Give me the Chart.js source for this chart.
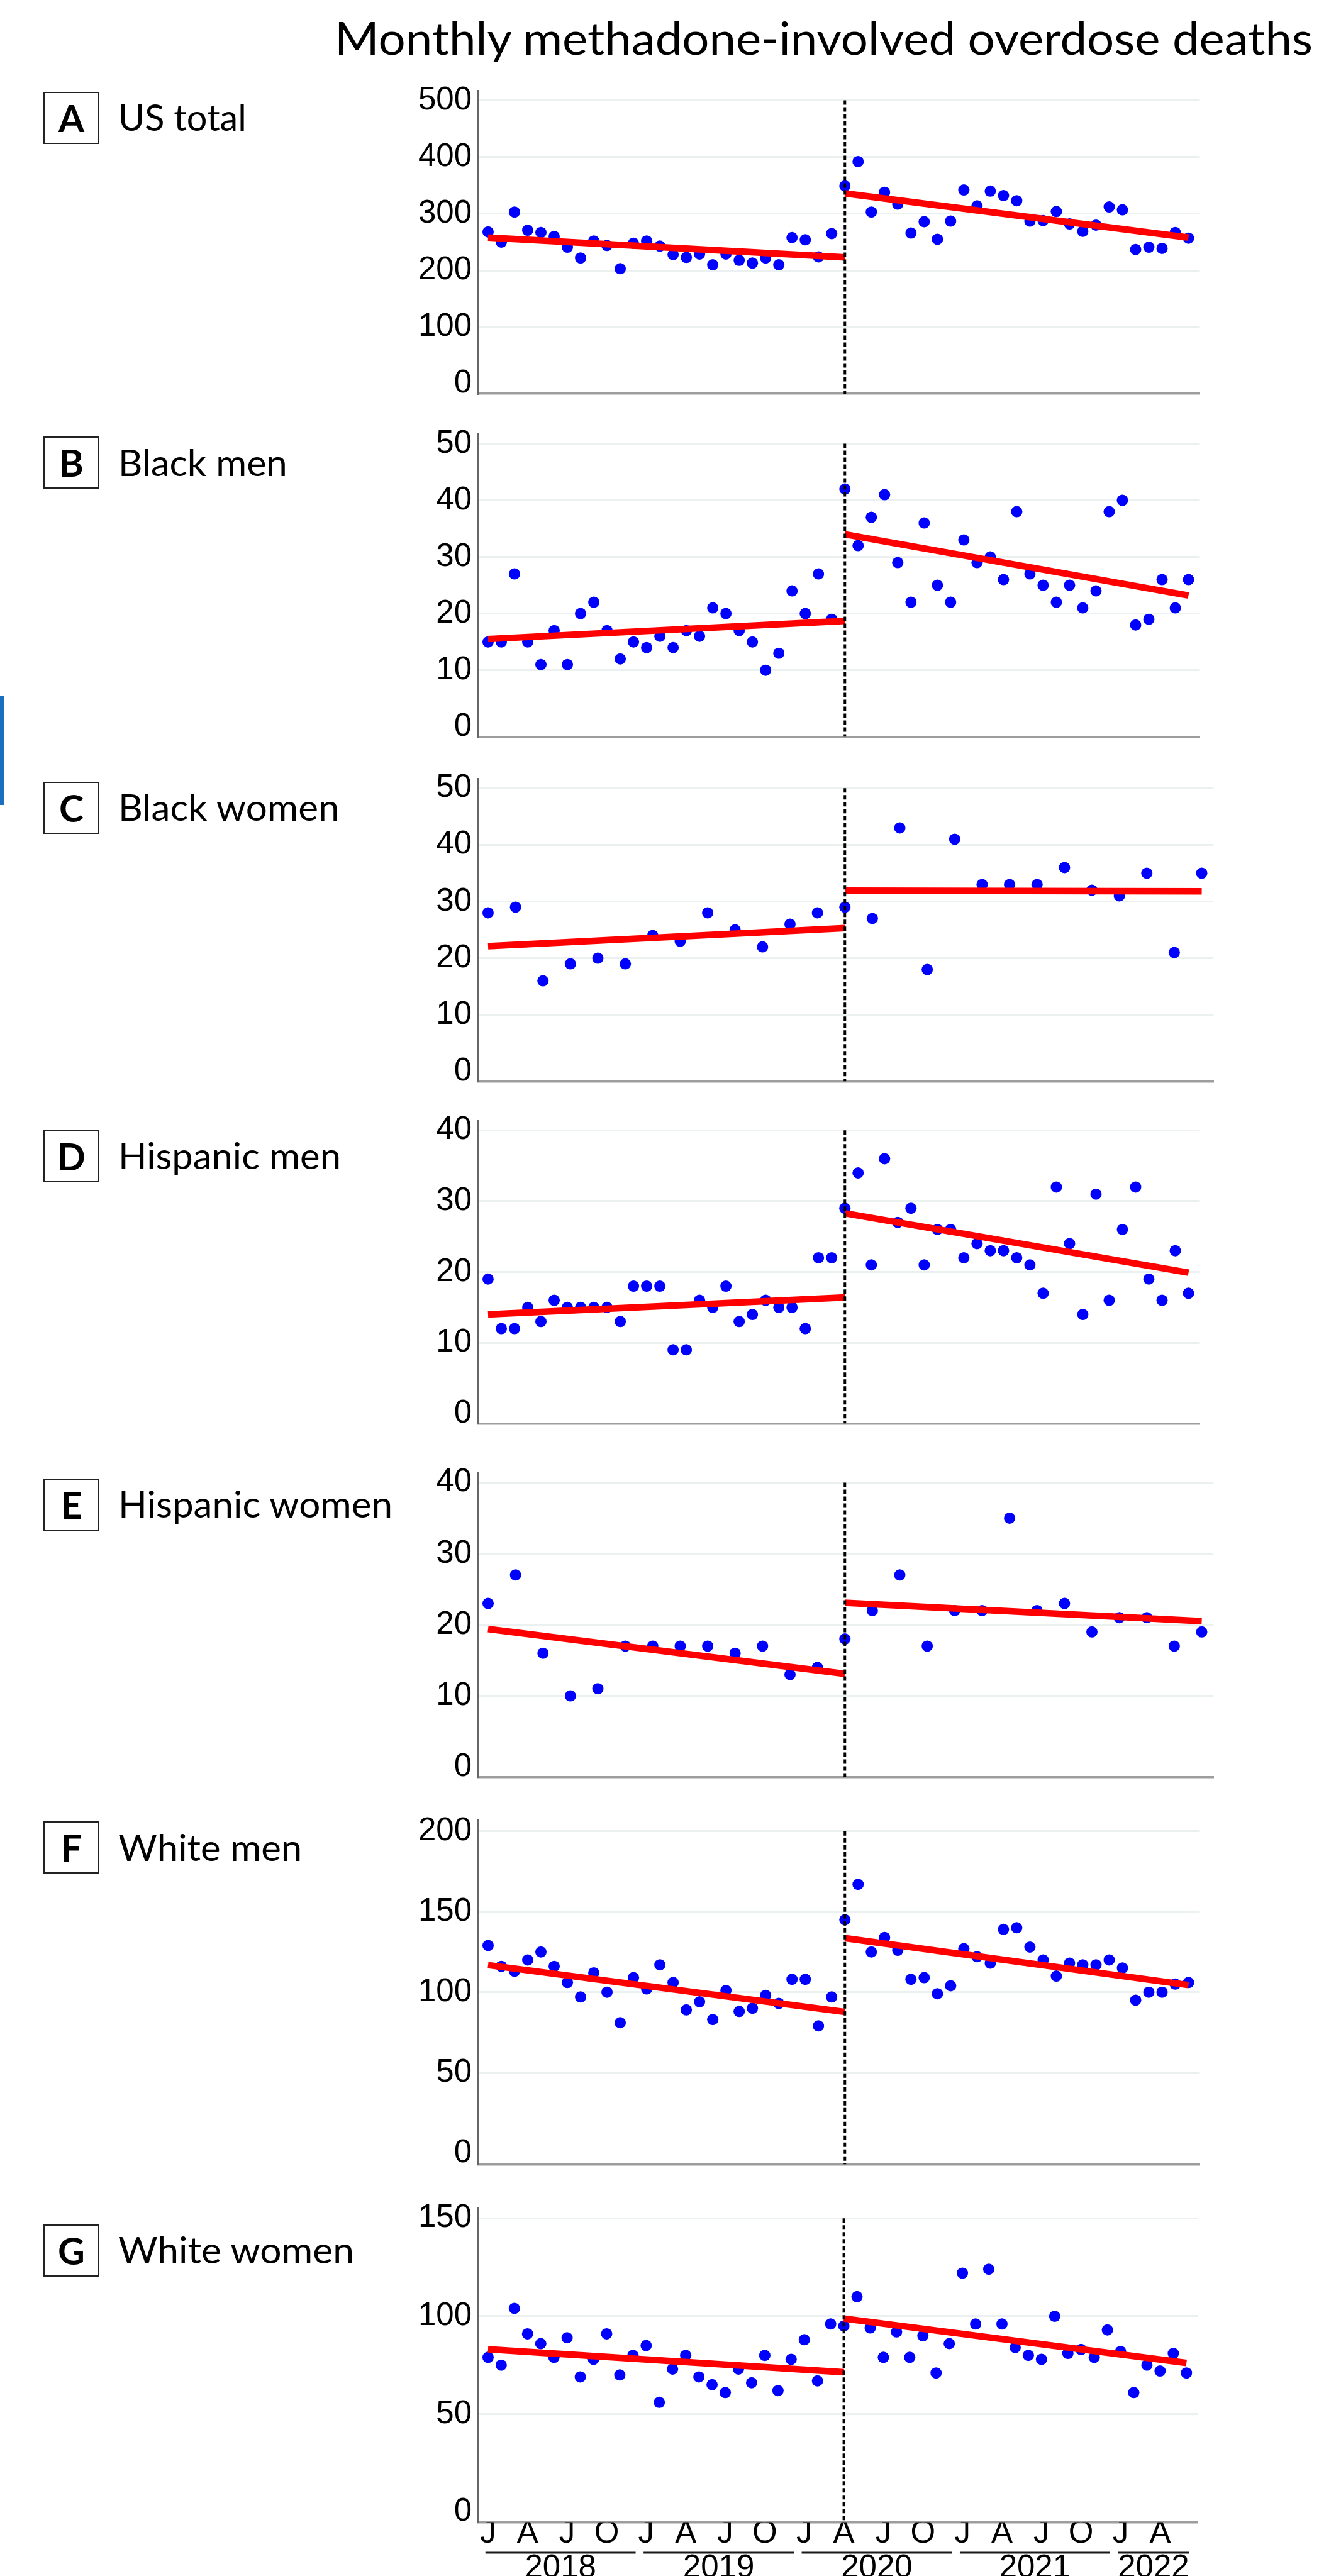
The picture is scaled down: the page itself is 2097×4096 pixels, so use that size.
<!DOCTYPE html>
<html>
<head>
<meta charset="utf-8">
<title>Monthly methadone-involved overdose deaths</title>
<script src="https://cdn.jsdelivr.net/npm/chart.js@4.4.1/dist/chart.umd.min.js"></script>
<style>
  html, body { margin: 0; padding: 0; background: #fff; }
  body { position: relative; width: 2097px; height: 4096px; overflow: hidden; font-family: 'Lato', 'Noto Sans', sans-serif; color: #000; }
  .title { position: absolute; left: 532px; top: 22.7px; font-size: 72.6px; line-height: 1; white-space: nowrap; transform-origin: 0 0; }
  .tag { position: absolute; left: 69px; width: 89px; height: 83px; box-sizing: border-box; border: 2.5px solid #222; font-weight: 700; font-size: 59px; line-height: 1; display: flex; align-items: center; justify-content: center; }
  .name { position: absolute; left: 188px; font-size: 59px; line-height: 1; white-space: nowrap; transform-origin: 0 0; }
  .panel { position: absolute; }
  .edge { position: absolute; left: 0; top: 1107px; width: 6.5px; height: 173px; background: #1b6fbe; border-right: 1px solid #0d3d6b; box-sizing: border-box; }
</style>
</head>
<body>
<div class="title" id="title">Monthly methadone-involved overdose deaths</div>
<div class="edge"></div>
<script>
// Monthly deaths, Jan 2018 - Jun 2022 (54 months)
const usTotal = [268,250,303,271,267,260,241,222,252,244,203,248,252,243,228,223,229,210,229,218,213,222,210,258,254,224,265,349,392,303,338,317,266,286,255,287,342,314,340,332,323,287,288,304,282,269,280,312,307,237,241,239,267,257];
const blackMen = [15,15,27,15,11,17,11,20,22,17,12,15,14,16,14,17,16,21,20,17,15,10,13,24,20,27,19,42,32,37,41,29,22,36,25,22,33,29,30,26,38,27,25,22,25,21,24,38,40,18,19,26,21,26];
const hispanicMen = [19,12,12,15,13,16,15,15,15,15,13,18,18,18,9,9,16,15,18,13,14,16,15,15,12,22,22,29,34,21,36,27,29,21,26,26,22,24,23,23,22,21,17,32,24,14,31,16,26,32,19,16,23,17];
const whiteMen = [129,116,113,120,125,116,106,97,112,100,81,109,102,117,106,89,94,83,101,88,90,98,93,108,108,79,97,145,167,125,134,126,108,109,99,104,127,122,118,139,140,128,120,110,118,117,117,120,115,95,100,100,105,106];
const whiteWomen = [79,75,104,91,86,79,89,69,78,91,70,80,85,56,73,80,69,65,61,73,66,80,62,78,88,67,96,95,110,94,79,92,79,90,71,86,122,96,124,96,84,80,78,100,81,83,79,93,82,61,75,72,81,71];

// Two-month periods, Jan-Feb 2018 - May-Jun 2022 (27 periods)
const blackWomen = [28,29,16,19,20,19,24,23,28,25,22,26,28,29,27,43,18,41,33,33,33,36,32,31,35,21,35];
const hispanicWomen = [23,27,16,10,11,17,17,17,17,16,17,13,14,18,22,27,17,22,22,35,22,23,19,21,21,17,19];

// Fitted segments: [value at start, value at end] before and after April 2020
const usTotalPre = [258, 223],      usTotalPost = [336, 258];
const blackMenPre = [15.5, 18.7],   blackMenPost = [34.0, 23.2];
const blackWomenPre = [22.1, 25.3], blackWomenPost = [31.9, 31.8];
const hispanicMenPre = [14.0, 16.4], hispanicMenPost = [28.3, 19.9];
const hispanicWomenPre = [19.4, 13.1], hispanicWomenPost = [23.1, 20.5];
const whiteMenPre = [116.8, 87.7],  whiteMenPost = [133.6, 104.4];
const whiteWomenPre = [83.1, 71.4], whiteWomenPost = [98.8, 76.1];

// Time axis labels
const monthTickLabels = ['J','A','J','O','J','A','J','O','J','A','J','O','J','A','J','O','J','A'];
const yearLabels = ['2018','2019','2020','2021','2022'];
const monthsInYear = [12, 12, 12, 12, 6];

Chart.defaults.font.family = "'Liberation Sans', Arial, sans-serif";
Chart.defaults.color = '#000';

const LEFT = 600;          // canvas left edge
const AXIS_LEFT = 760;     // y axis position
const PAD_FRAC = 0.035;    // space below 0 and above the top tick

const panels = [
  { tag: 'A', name: 'US total',       values: usTotal,       pre: usTotalPre,       post: usTotalPost,       yMax: 500, yStep: 100, gridTop: 159.6,  bottom: 626.1,  right: 1907.4, tagTop: 146.2,  nameW: 203.8 },
  { tag: 'B', name: 'Black men',      values: blackMen,      pre: blackMenPre,      post: blackMenPost,      yMax: 50,  yStep: 10,  gridTop: 705.6,  bottom: 1171.7, right: 1907.4, tagTop: 694.3,  nameW: 268.8 },
  { tag: 'C', name: 'Black women',    values: blackWomen,    pre: blackWomenPre,    post: blackWomenPost,    yMax: 50,  yStep: 10,  gridTop: 1252.9, bottom: 1719.8, right: 1929.3, tagTop: 1243.2, nameW: 351.6, bimonthly: true },
  { tag: 'D', name: 'Hispanic men',   values: hispanicMen,   pre: hispanicMenPre,   post: hispanicMenPost,   yMax: 40,  yStep: 10,  gridTop: 1797.0, bottom: 2263.9, right: 1907.4, tagTop: 1797.0, nameW: 354.0 },
  { tag: 'E', name: 'Hispanic women', values: hispanicWomen, pre: hispanicWomenPre, post: hispanicWomenPost, yMax: 40,  yStep: 10,  gridTop: 2357.2, bottom: 2825.8, right: 1929.3, tagTop: 2350.7, nameW: 436.0, bimonthly: true },
  { tag: 'F', name: 'White men',      values: whiteMen,      pre: whiteMenPre,      post: whiteMenPost,      yMax: 200, yStep: 50,  gridTop: 2911.8, bottom: 3441.7, right: 1907.4, tagTop: 2896.4, nameW: 292.3 },
  { tag: 'G', name: 'White women',    values: whiteWomen,    pre: whiteWomenPre,    post: whiteWomenPost,    yMax: 150, yStep: 50,  gridTop: 3527.3, bottom: 4010.5, right: 1904.1, tagTop: 3537.1, nameW: 375.0, timeAxis: true }
];

// Underlines beneath the year labels
const yearRulePlugin = {
  id: 'yearRules',
  afterDraw(chart, args, opts) {
    if (!opts || !opts.spans) return;
    const xs = chart.scales.x;
    const ctx = chart.ctx;
    const y = chart.chartArea.bottom + opts.offset;
    ctx.save();
    ctx.strokeStyle = '#1a1a1a';
    ctx.lineWidth = 3.2;
    opts.spans.forEach(([a, b]) => {
      ctx.beginPath();
      ctx.moveTo(xs.getPixelForValue(a), y);
      ctx.lineTo(xs.getPixelForValue(b), y);
      ctx.stroke();
    });
    ctx.restore();
  }
};

function fitWidth(el, target) {
  const w = el.getBoundingClientRect().width;
  if (w > 0) el.style.transform = 'scaleX(' + (target / w) + ')';
}

function buildPanel(p) {
  const bim = !!p.bimonthly;
  const xMin = bim ? -0.366 : -0.76;
  const xMax = bim ? 26.43 : 53.85;
  const brk = bim ? 13 : 27;
  const last = p.values.length - 1;

  const span = (p.bottom - p.gridTop) / (1 + PAD_FRAC);
  const areaTop = p.gridTop - PAD_FRAC * span;
  const yMin = -PAD_FRAC * p.yMax;
  const yTop = p.yMax * (1 + PAD_FRAC);

  const monthH = p.timeAxis ? 50 : 0;
  const yearH = p.timeAxis ? 90 : 0;
  const top = Math.floor(areaTop - 40);
  const padT = areaTop - top;
  const H = Math.ceil(p.bottom - top + monthH + yearH + (p.timeAxis ? 0 : 40));
  const padB = H - (p.bottom - top) - monthH - yearH;
  const W = Math.ceil(p.right - LEFT + 24);
  const padR = W - (p.right - LEFT);

  // label box and name
  const tag = document.createElement('div');
  tag.className = 'tag';
  tag.style.top = p.tagTop + 'px';
  tag.textContent = p.tag;
  document.body.appendChild(tag);

  const name = document.createElement('div');
  name.className = 'name';
  name.style.top = (p.tagTop + 41.5 - 0.529 * 59) + 'px';
  name.textContent = p.name;
  document.body.appendChild(name);
  fitWidth(name, p.nameW);

  const holder = document.createElement('div');
  holder.className = 'panel';
  holder.style.left = LEFT + 'px';
  holder.style.top = top + 'px';
  holder.style.width = W + 'px';
  holder.style.height = H + 'px';
  const canvas = document.createElement('canvas');
  canvas.width = W; canvas.height = H;
  canvas.style.width = W + 'px'; canvas.style.height = H + 'px';
  holder.appendChild(canvas);
  document.body.appendChild(holder);

  const yTicks = [];
  for (let v = 0; v <= p.yMax + 1e-9; v += p.yStep) yTicks.push(v);

  const scales = {
    x: {
      type: 'linear', position: 'bottom', min: xMin, max: xMax, weight: 0,
      grid: { display: false, drawTicks: false },
      border: { display: true, color: '#9d9d9d', width: 3.5 },
      ticks: {
        display: !!p.timeAxis, autoSkip: false, maxRotation: 0, minRotation: 0,
        padding: -7, color: '#000',
        font: { size: 51, lineHeight: 1 },
        callback: (value, index) => monthTickLabels[index] || ''
      },
      afterBuildTicks: (axis) => {
        if (!p.timeAxis) return;
        axis.ticks = monthTickLabels.map((_, i) => ({ value: i * 3 }));
      },
      afterFit: (axis) => { axis.height = monthH; }
    },
    y: {
      type: 'linear', min: yMin, max: yTop,
      grid: {
        drawTicks: false, lineWidth: 3,
        color: (ctx) => (ctx.tick && ctx.tick.value === 0) ? 'rgba(0,0,0,0)' : '#ebf1f1'
      },
      border: { display: true, color: '#666', width: 2 },
      ticks: { padding: 10, color: '#000', font: { size: 51 } },
      afterBuildTicks: (axis) => { axis.ticks = yTicks.map(v => ({ value: v })); },
      afterFit: (axis) => { axis.width = AXIS_LEFT - LEFT; }
    }
  };

  const pluginOpts = { legend: { display: false }, tooltip: { enabled: false } };

  if (p.timeAxis) {
    const spans = [];
    const centers = [];
    let start = 0;
    monthsInYear.forEach((n) => {
      const a = start - 0.2;
      const b = Math.min(start + n - 1 + 0.2, xMax);
      spans.push([a, b]);
      centers.push((a + b) / 2);
      start += n;
    });
    scales.x2 = {
      type: 'linear', position: 'bottom', min: xMin, max: xMax, weight: 1,
      grid: { display: false, drawTicks: false },
      border: { display: false },
      ticks: {
        autoSkip: false, maxRotation: 0, minRotation: 0, padding: -2, color: '#000',
        font: { size: 51, lineHeight: 1 },
        callback: (value, index) => yearLabels[index] || ''
      },
      afterBuildTicks: (axis) => { axis.ticks = centers.map(v => ({ value: v })); },
      afterFit: (axis) => { axis.height = yearH; }
    };
    pluginOpts.yearRules = { spans: spans, offset: 48.5 };
  }

  new Chart(canvas, {
    type: 'scatter',
    data: {
      datasets: [
        {
          label: 'April 2020', type: 'line', order: 0,
          data: [{ x: brk, y: p.yMax }, { x: brk, y: yMin }],
          borderColor: '#000', borderWidth: 4, borderDash: [7, 4],
          pointRadius: 0, fill: false, tension: 0
        },
        {
          label: 'Trend before', type: 'line', order: 1,
          data: [{ x: 0, y: p.pre[0] }, { x: brk, y: p.pre[1] }],
          borderColor: '#ff0000', borderWidth: 10.5, borderCapStyle: 'butt',
          pointRadius: 0, fill: false, tension: 0
        },
        {
          label: 'Trend after', type: 'line', order: 1,
          data: [{ x: brk, y: p.post[0] }, { x: last, y: p.post[1] }],
          borderColor: '#ff0000', borderWidth: 10.5, borderCapStyle: 'butt',
          pointRadius: 0, fill: false, tension: 0
        },
        {
          label: 'Deaths', order: 2,
          data: p.values.map((v, i) => ({ x: i, y: v })),
          pointRadius: 9, pointBorderWidth: 0,
          pointBackgroundColor: '#0000ff', backgroundColor: '#0000ff', borderColor: '#0000ff'
        }
      ]
    },
    options: {
      responsive: false, animation: false, devicePixelRatio: 1, events: [],
      layout: { padding: { top: padT, right: padR, bottom: padB, left: 0 } },
      plugins: pluginOpts,
      scales: scales
    },
    plugins: p.timeAxis ? [yearRulePlugin] : []
  });
}

fitWidth(document.getElementById('title'), 1555);
panels.forEach(buildPanel);
</script>
</body>
</html>
